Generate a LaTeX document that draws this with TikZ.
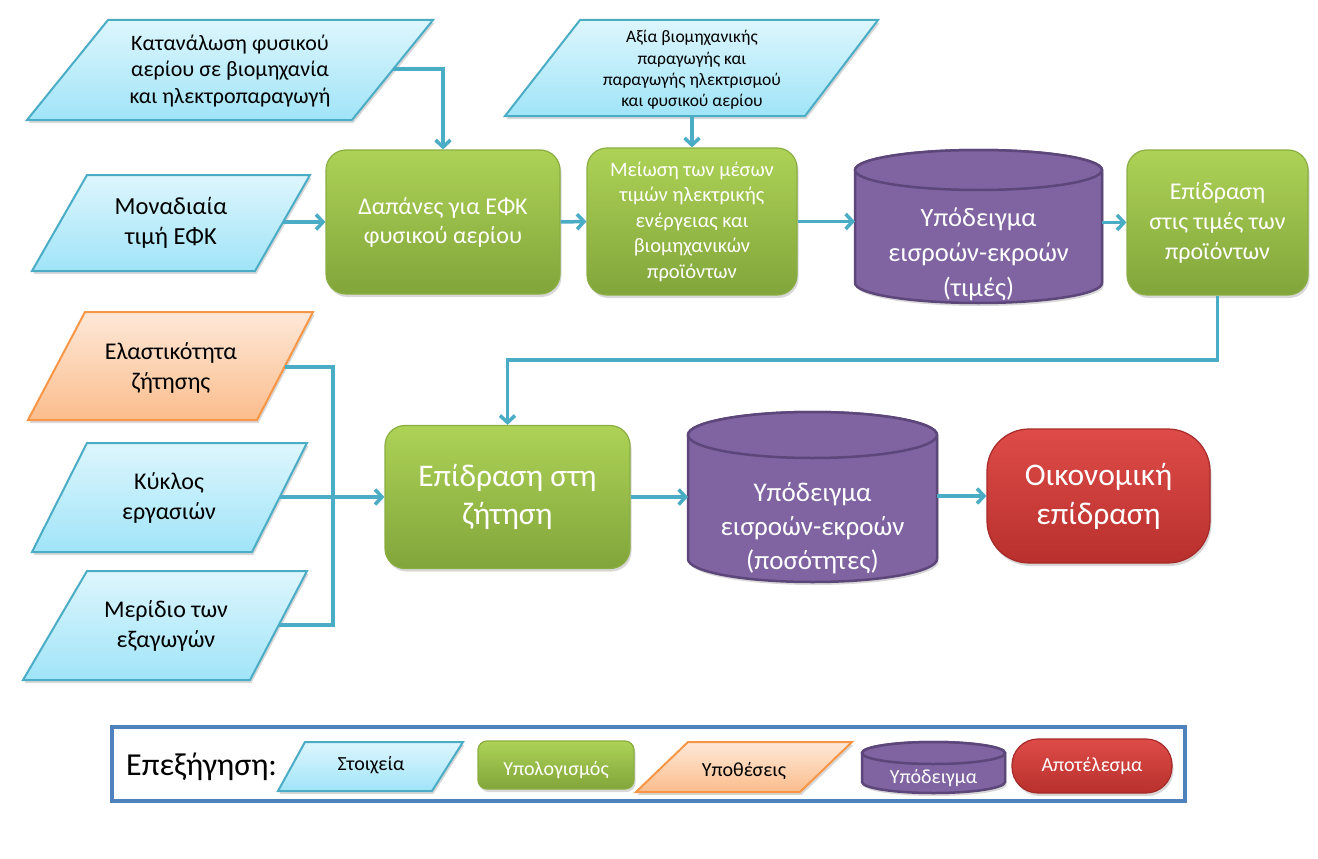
\documentclass[tikz,border=0pt]{standalone}
\usepackage{fontspec}
\setmainfont{Carlito}
\usetikzlibrary{arrows.meta,shadows}
\definecolor{connc}{HTML}{4BACC6}
\definecolor{cyanb}{HTML}{4BACC6}
\definecolor{cyantop}{HTML}{DDF6FD}
\definecolor{cyanbot}{HTML}{A0E4F8}
\definecolor{orb}{HTML}{F79646}
\definecolor{ortop}{HTML}{FEE8D8}
\definecolor{orbot}{HTML}{FBBD8C}
\definecolor{gtop}{HTML}{ADD256}
\definecolor{gbot}{HTML}{82A53B}
\definecolor{gb}{HTML}{8AAE42}
\definecolor{pfill}{HTML}{8064A2}
\definecolor{pb}{HTML}{5C467A}
\definecolor{rtop}{HTML}{DE4B48}
\definecolor{rbot}{HTML}{B8302D}
\definecolor{rb}{HTML}{A52A28}
\definecolor{legb}{HTML}{4F81BD}
\newcommand\fsz[2]{\fontsize{#1}{#2}\selectfont}
\begin{document}
\begin{tikzpicture}[x=1pt,y=-1pt,
  conn/.style={draw=connc,line width=3.5pt},
  arr/.style={conn,-{Straight Barb[length=7pt,width=15pt]}},
  shad/.style={drop shadow={opacity=0.3,shadow xshift=1.5pt,shadow yshift=-3pt}},
  para/.style={shad,draw=cyanb,line width=2pt,top color=cyantop,bottom color=cyanbot},
  orpara/.style={shad,draw=orb,line width=2pt,top color=ortop,bottom color=orbot},
  gbox/.style={shad,draw=gb,line width=1.2pt,top color=gtop,bottom color=gbot,rounded corners=20pt,text=white,align=center,inner sep=0pt},
  cylsh/.style={draw=pb,line width=2.5pt,fill=pfill},
  rbox/.style={shad,draw=rb,line width=1.2pt,top color=rtop,bottom color=rbot,rounded corners=42pt,text=white,align=center,inner sep=0pt},
  dtext/.style={align=center,text=black,inner sep=0pt},
  wtext/.style={align=center,text=white,inner sep=0pt},
  ghost/.style={inner sep=0pt,outer sep=0pt}
]
\useasboundingbox (0,0) rectangle (1318,859);
\fill[white] (0,0) rectangle (1318,859);

% ---------- inputs top ----------
\path[para] (108,20) -- (433,20) -- (352,120) -- (27,120) -- cycle;
\node[dtext,font=\fsz{22}{26.5}] (in1) at (230,71) {Κατανάλωση φυσικού\\αερίου σε βιομηχανία\\και ηλεκτροπαραγωγή};
\coordinate (in1r) at (393,69);

\path[para] (87,175) -- (310,175) -- (255,271) -- (32,271) -- cycle;
\node[dtext,font=\fsz{24.5}{30}] (in2) at (171,223) {Μοναδιαία\\τιμή ΕΦΚ};
\coordinate (in2r) at (283,222);

\path[para] (580,20) -- (878,20) -- (805,116) -- (505,116) -- cycle;
\node[dtext,font=\fsz{17.5}{21.3}] (in3) at (692,70) {Αξία βιομηχανικής\\παραγωγής και\\παραγωγής ηλεκτρισμού\\και φυσικού αερίου};
\coordinate (in3b) at (692,116);

% ---------- top row ----------
\node[gbox,minimum width=234pt,minimum height=144pt,font=\fsz{24}{29}] (g1) at (443,222) {Δαπάνες για ΕΦΚ\\φυσικού αερίου};
\node[gbox,minimum width=210pt,minimum height=147pt,font=\fsz{20.5}{25.5}] (g2) at (692,221.5) {Μείωση των μέσων\\τιμών ηλεκτρικής\\ενέργειας και\\βιομηχανικών\\προϊόντων};

\path[cylsh,shad] (855,170) -- (855,283) arc[start angle=180,end angle=0,x radius=123.5,y radius=20] -- (1102,170) arc[start angle=0,end angle=-180,x radius=123.5,y radius=20] -- cycle;
\draw[cylsh] (978.5,170) ellipse[x radius=123.5,y radius=20];
\node[ghost,minimum width=247pt,minimum height=153pt] (cyl1) at (978.5,226.5) {};
\node[wtext,font=\fsz{26.5}{35}] (m1) at (978.5,254) {Υπόδειγμα\\εισροών-εκροών\\(τιμές)};

\node[gbox,minimum width=181pt,minimum height=145pt,font=\fsz{24}{30}] (g3) at (1217.5,222.5) {Επίδραση\\στις τιμές των\\προϊόντων};

% ---------- left inputs lower ----------
\path[orpara] (85,312) -- (313,312) -- (257,420) -- (28,420) -- cycle;
\node[dtext,font=\fsz{24}{30}] (as1) at (171,368) {Ελαστικότητα\\ζήτησης};
\coordinate (as1r) at (285,367);

\path[para] (87,443) -- (307,443) -- (252,552) -- (32,552) -- cycle;
\node[dtext,font=\fsz{24}{30}] (in4) at (169,498) {Κύκλος\\εργασιών};
\coordinate (in4r) at (280,497);

\path[para] (87,571) -- (307,571) -- (250,680) -- (23,680) -- cycle;
\node[dtext,font=\fsz{24}{30}] (in5) at (166,626) {Μερίδιο των\\εξαγωγών};
\coordinate (in5r) at (279,625);

% ---------- bottom row ----------
\node[gbox,minimum width=245pt,minimum height=143pt,font=\fsz{31.5}{38}] (g4) at (507.5,497) {Επίδραση στη\\ζήτηση};

\path[cylsh,shad] (688,435) -- (688,559) arc[start angle=180,end angle=0,x radius=124.5,y radius=23] -- (937,435) arc[start angle=0,end angle=-180,x radius=124.5,y radius=23] -- cycle;
\draw[cylsh] (812.5,435) ellipse[x radius=124.5,y radius=23];
\node[ghost,minimum width=249pt,minimum height=170pt] (cyl2) at (812.5,497) {};
\node[wtext,font=\fsz{27}{34}] (m2) at (812.5,528) {Υπόδειγμα\\εισροών-εκροών\\(ποσότητες)};

\node[rbox,minimum width=223pt,minimum height=134pt,font=\fsz{31.5}{39}] (res) at (1098.5,496) {Οικονομική\\επίδραση};

% ---------- connectors ----------
\draw[arr] (in1r) -| (g1.north);
\draw[arr] (in2r) -- (in2r -| g1.west);
\draw[arr] (in3b) -- (g2.north);
\draw[arr] (g1.east) -- (g2.west);
\draw[arr] (g2.east) -- (g2.east -| cyl1.west);
\draw[arr] (g3.west -| cyl1.east) -- (g3.west);
\coordinate (turn) at (1217.5,360);
\draw[arr] (g3.south) -- (turn) -| (g4.north);
\coordinate (bus1) at (333,367);
\coordinate (bus2) at (333,625);
\draw[conn] (as1r) -- (bus1) -- (bus2) -- (in5r);
\draw[arr] (in4r) -- (in4r -| g4.west);
\draw[arr] (g4.east) -- (g4.east -| cyl2.west);
\draw[arr] (cyl2.east |- res.west) -- (res.west);

% ---------- legend ----------
\node[draw=legb,line width=3.5pt,minimum width=1073pt,minimum height=74pt,inner sep=0pt] (leg) at (648.5,764) {};
\node[anchor=west,font=\fsz{32}{36},inner sep=0pt] (legt) at (126,767) {Επεξήγηση:};
\path[para] (305,742) -- (463,742) -- (432,791) -- (278,791) -- cycle;
\node[dtext,font=\fsz{20}{24}] (l1) at (371,765) {Στοιχεία};
\node[gbox,rounded corners=9pt,minimum width=156pt,minimum height=48pt] (l2) at (556,765) {};
\node[wtext,font=\fsz{20}{24}] (l2t) at (556,770) {Υπολογισμός};
\path[orpara] (688,742) -- (852,742) -- (800,792) -- (636,792) -- cycle;
\node[dtext,font=\fsz{20}{24}] (l3) at (744,771) {Υποθέσεις};
\path[cylsh,shad] (862,753) -- (862,782) arc[start angle=180,end angle=0,x radius=71.5,y radius=11] -- (1005,753) arc[start angle=0,end angle=-180,x radius=71.5,y radius=11] -- cycle;
\draw[cylsh] (933.5,753) ellipse[x radius=71.5,y radius=11];
\node[wtext,font=\fsz{20}{24}] (l4) at (933.5,778) {Υπόδειγμα};
\node[rbox,rounded corners=26pt,minimum width=160pt,minimum height=54pt,font=\fsz{20}{24}] (l5) at (1092,766) {Αποτέλεσμα};
\end{tikzpicture}
\end{document}
